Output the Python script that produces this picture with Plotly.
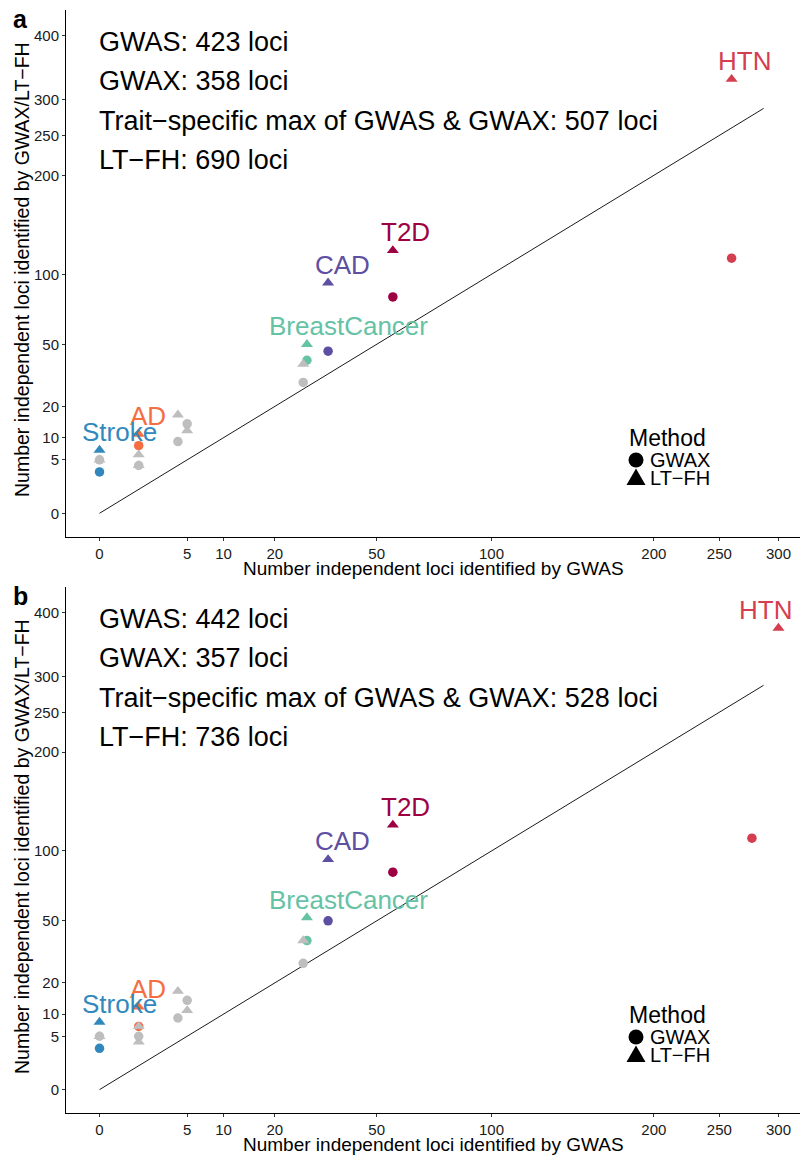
import numpy as np
import plotly.graph_objects as go

# ---------------- data ----------------
traits = ["HTN", "T2D", "CAD", "BreastCancer", "AD", "Stroke"]
trait_colors = ["#D53E4F", "#9E0142", "#5E4FA2", "#66C2A5", "#F46D43", "#3288BD"]

# panel a  (x: GWAS loci for the GWAX point / for the LT-FH point)
a_gwas_gwax = [260, 56, 34, 28, 1, 0]
a_gwas_ltfh = [260, 56, 34, 28, 1, 0]
a_gwax = [114, 82, 46, 41, 8, 3]
a_ltfh = [330, 121, 93, 50, 11, 7]
a_other_gwax_x = [0, 1, 4, 5, 27]
a_other_gwax_y = [5, 4, 9, 14, 30]
a_other_ltfh_x = [0, 1, 1, 4, 5, 27]
a_other_ltfh_y = [5, 6, 4, 17, 12, 39]
a_summary = ["GWAS: 423 loci", "GWAX: 358 loci",
             "Trait\u2212specific max of GWAS & GWAX: 507 loci", "LT\u2212FH: 690 loci"]

# panel b
b_gwas_gwax = [277, 56, 34, 28, 1, 0]
b_gwas_ltfh = [300, 56, 34, 28, 1, 0]
b_gwax = [111, 83, 50, 39, 7, 3]
b_ltfh = [374, 123, 93, 52, 12, 8]
b_other_gwax_x = [0, 1, 4, 5, 27]
b_other_gwax_y = [5, 5, 9, 14, 28]
b_other_ltfh_x = [0, 1, 1, 4, 5, 27]
b_other_ltfh_y = [5, 7, 4, 17, 11, 39]
b_summary = ["GWAS: 442 loci", "GWAX: 357 loci",
             "Trait\u2212specific max of GWAS & GWAX: 528 loci", "LT\u2212FH: 736 loci"]

diag_line = [0, 287]
x_ticks = [0, 5, 10, 20, 50, 100, 200, 250, 300]
y_ticks = [0, 5, 10, 20, 50, 100, 200, 250, 300, 400]
legend_labels = ["GWAX", "LT\u2212FH"]

# ---------------- styles ----------------
FONT = "Liberation Sans, Arial, Helvetica, sans-serif"
W, H = 801, 1157
ML, MR, MT, MB = 66, 1, 10, 44
PW, PH = W - ML - MR, H - MT - MB
GREY = "#BEBEBE"
label_dx = {"a": [13, 13, 14, 42, 9, 20], "b": [-13, 13, 14, 42, 9, 20]}
label_dy = 18
PANEL_OFFSET = 577  # pixel offset of panel b relative to panel a


def sq(v):
    return np.sqrt(np.asarray(v, dtype=float))


def px_x(p):
    return (p - ML) / PW


def px_y(p):
    return (H - MB - p) / PH


fig = go.Figure()

panels = [
    ("a", "x", "y", a_gwas_gwax, a_gwas_ltfh, a_gwax, a_ltfh, a_other_gwax_x, a_other_gwax_y,
     a_other_ltfh_x, a_other_ltfh_y, a_summary, 0),
    ("b", "x2", "y2", b_gwas_gwax, b_gwas_ltfh, b_gwax, b_ltfh, b_other_gwax_x, b_other_gwax_y,
     b_other_ltfh_x, b_other_ltfh_y, b_summary, PANEL_OFFSET),
]

annotations = []
shapes = []
for (name, xa, ya, gx_c, gx_t, gwax, ltfh, ogx, ogy, olx, oly, summary, off) in panels:
    # diagonal
    fig.add_trace(go.Scatter(x=sq(diag_line), y=sq(diag_line), mode="lines",
                             line=dict(color="black", width=0.9),
                             xaxis=xa, yaxis=ya, showlegend=False, hoverinfo="skip"))
    # coloured traits
    fig.add_trace(go.Scatter(x=sq(gx_c), y=sq(gwax), mode="markers",
                             marker=dict(symbol="circle", size=9.5, color=trait_colors),
                             xaxis=xa, yaxis=ya, showlegend=False, text=traits))
    fig.add_trace(go.Scatter(x=sq(gx_t), y=sq(ltfh), mode="markers",
                             marker=dict(symbol="triangle-up", size=10.5, color=trait_colors),
                             xaxis=xa, yaxis=ya, showlegend=False, text=traits))
    # other traits (grey)
    fig.add_trace(go.Scatter(x=sq(ogx), y=sq(ogy), mode="markers",
                             marker=dict(symbol="circle", size=9.5, color=GREY),
                             xaxis=xa, yaxis=ya, showlegend=False))
    fig.add_trace(go.Scatter(x=sq(olx), y=sq(oly), mode="markers",
                             marker=dict(symbol="triangle-up", size=10.5, color=GREY),
                             xaxis=xa, yaxis=ya, showlegend=False))
    # trait labels
    for i, t in enumerate(traits):
        annotations.append(dict(x=float(sq(gx_t[i])), y=float(sq(ltfh[i])), xref=xa, yref=ya,
                                text=t, showarrow=False, xanchor="center", yanchor="middle",
                                xshift=label_dx[name][i], yshift=label_dy,
                                font=dict(family=FONT, size=26, color=trait_colors[i])))
    # summary text
    for j, s in enumerate(summary):
        annotations.append(dict(x=px_x(97), y=px_y(42 + 39.3 * j + off), xref="paper", yref="paper",
                                text=s, showarrow=False, xanchor="left", yanchor="middle",
                                font=dict(family=FONT, size=27, color="black")))
    # panel letter
    annotations.append(dict(x=px_x(20), y=px_y(19.5 + off), xref="paper", yref="paper",
                            text="<b>%s</b>" % name, showarrow=False, xanchor="center",
                            yanchor="middle", font=dict(family=FONT, size=25, color="black")))
    # axis titles
    annotations.append(dict(x=px_x(433), y=px_y(568 + off), xref="paper", yref="paper",
                            text="Number independent loci identified by GWAS", showarrow=False,
                            xanchor="center", yanchor="middle",
                            font=dict(family=FONT, size=19, color="black")))
    annotations.append(dict(x=px_x(22), y=px_y(270 + off), xref="paper", yref="paper",
                            text="Number independent loci identified by GWAX/LT\u2212FH",
                            showarrow=False, textangle=-90, xanchor="center", yanchor="middle",
                            font=dict(family=FONT, size=19.5, color="black")))
    # legend
    annotations.append(dict(x=px_x(627), y=px_y(438 + off), xref="paper", yref="paper",
                            text="Method", showarrow=False, xanchor="left", yanchor="middle",
                            font=dict(family=FONT, size=23, color="black")))
    for k, lab in enumerate(legend_labels):
        annotations.append(dict(x=px_x(648), y=px_y(460 + 18 * k + off), xref="paper", yref="paper",
                                text=lab, showarrow=False, xanchor="left", yanchor="middle",
                                font=dict(family=FONT, size=20, color="black")))
    shapes.append(dict(type="circle", xref="paper", yref="paper", xsizemode="pixel",
                       ysizemode="pixel", xanchor=px_x(636), yanchor=px_y(460 + off),
                       x0=-7.5, x1=7.5, y0=-7.5, y1=7.5, fillcolor="black",
                       line=dict(width=0)))
    shapes.append(dict(type="path", xref="paper", yref="paper", xsizemode="pixel",
                       ysizemode="pixel", xanchor=px_x(636), yanchor=px_y(477 + off),
                       path="M -9.5,-8 L 9.5,-8 L 0,8.5 Z", fillcolor="black",
                       line=dict(width=0)))

axis_common = dict(showgrid=False, zeroline=False, showline=True, linecolor="black",
                   linewidth=1, ticks="outside", ticklen=3, tickwidth=1, tickcolor="#333333",
                   tickfont=dict(family=FONT, size=15, color="#1a1a1a"))
xr = [-0.855, 17.87]
yr = [-0.98, 21.06]
dom_a = [px_y(536.7), 1.0]
dom_b = [0.0, px_y(587)]

fig.update_layout(
    width=W, height=H, margin=dict(l=ML, r=MR, t=MT, b=MB),
    paper_bgcolor="white", plot_bgcolor="white", showlegend=False,
    xaxis=dict(domain=[0, 1], range=xr, anchor="y", tickvals=sq(x_ticks).tolist(),
               ticktext=[str(v) for v in x_ticks], **axis_common),
    yaxis=dict(domain=dom_a, range=yr, anchor="x", tickvals=sq(y_ticks).tolist(),
               ticktext=[str(v) for v in y_ticks], **axis_common),
    xaxis2=dict(domain=[0, 1], range=xr, anchor="y2", tickvals=sq(x_ticks).tolist(),
                ticktext=[str(v) for v in x_ticks], **axis_common),
    yaxis2=dict(domain=dom_b, range=yr, anchor="x2", tickvals=sq(y_ticks).tolist(),
                ticktext=[str(v) for v in y_ticks], **axis_common),
    annotations=annotations, shapes=shapes,
)

fig.write_html("out.html")
